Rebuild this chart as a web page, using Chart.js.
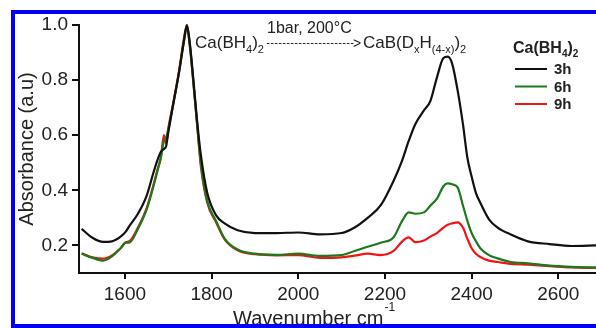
<!DOCTYPE html>
<html>
<head>
<meta charset="utf-8">
<script src="https://cdn.jsdelivr.net/npm/chart.js@4.4.1/dist/chart.umd.min.js"></script>
<style>
  html, body { margin: 0; padding: 0; background: #ffffff; overflow: hidden; }
  #wrap { position: relative; width: 596px; height: 328px; }
  #frame {
    position: absolute; left: 11px; top: 10px; width: 640px; height: 318px;
    border: 4px solid #0000f2; box-sizing: border-box; pointer-events: none;
  }
</style>
</head>
<body>
<div id="wrap">
  <canvas id="IrChart"></canvas>
  <div id="frame"></div>
</div>
<script>
// wavenumber (cm-1) sample points
const wavenumbers = [1500, 1525, 1550, 1570, 1590, 1602, 1610, 1630, 1650, 1665, 1675, 1683, 1690, 1695, 1700, 1710, 1725, 1735, 1743, 1750, 1758, 1766, 1775, 1790, 1810, 1830, 1860, 1900, 1950, 2000, 2050, 2100, 2130, 2160, 2190, 2220, 2240, 2255, 2270, 2290, 2305, 2320, 2335, 2345, 2355, 2368, 2380, 2390, 2400, 2410, 2420, 2440, 2460, 2490, 2530, 2580, 2630, 2690];

// absorbance, Ca(BH4)2 after 3h / 6h / 9h
const abs_3h = [0.26, 0.228, 0.213, 0.215, 0.232, 0.25, 0.27, 0.315, 0.38, 0.46, 0.51, 0.54, 0.55, 0.56, 0.61, 0.70, 0.83, 0.93, 1.0, 0.93, 0.80, 0.66, 0.53, 0.39, 0.31, 0.28, 0.255, 0.245, 0.245, 0.247, 0.24, 0.245, 0.265, 0.30, 0.345, 0.435, 0.51, 0.58, 0.64, 0.69, 0.725, 0.81, 0.88, 0.885, 0.86, 0.76, 0.64, 0.52, 0.45, 0.39, 0.355, 0.295, 0.265, 0.24, 0.215, 0.205, 0.198, 0.2];
const abs_6h = [0.17, 0.155, 0.145, 0.16, 0.19, 0.21, 0.21, 0.26, 0.33, 0.41, 0.47, 0.52, 0.58, 0.59, 0.62, 0.70, 0.83, 0.93, 0.99, 0.92, 0.79, 0.65, 0.50, 0.36, 0.29, 0.225, 0.185, 0.17, 0.166, 0.17, 0.162, 0.165, 0.18, 0.195, 0.21, 0.23, 0.29, 0.32, 0.315, 0.32, 0.345, 0.37, 0.415, 0.425, 0.422, 0.41, 0.345, 0.29, 0.245, 0.215, 0.19, 0.165, 0.153, 0.14, 0.135, 0.127, 0.122, 0.12];
const abs_9h = [0.172, 0.157, 0.152, 0.164, 0.19, 0.212, 0.215, 0.265, 0.335, 0.415, 0.475, 0.52, 0.60, 0.57, 0.625, 0.705, 0.835, 0.94, 1.0, 0.925, 0.79, 0.65, 0.49, 0.355, 0.285, 0.222, 0.182, 0.168, 0.164, 0.165, 0.155, 0.157, 0.163, 0.17, 0.165, 0.18, 0.215, 0.229, 0.212, 0.218, 0.232, 0.245, 0.265, 0.275, 0.28, 0.284, 0.265, 0.225, 0.19, 0.17, 0.158, 0.145, 0.14, 0.133, 0.13, 0.125, 0.12, 0.118];

const series_labels = ['3h', '6h', '9h'];
const x_ticks = [1600, 1800, 2000, 2200, 2400, 2600];
const y_ticks = [0.2, 0.4, 0.6, 0.8, 1.0];

(function () {
  "use strict";

  const font_family = "'Liberation Sans', Arial, Helvetica, sans-serif";
  const text_color  = '#222222';

  // line colours
  const line_black = '#111111';
  const line_green = '#1c7a1c';
  const line_red   = '#f01414';

  Chart.defaults.font.family = font_family;
  Chart.defaults.color = text_color;

  function toPoints(ys) {
    return wavenumbers.map(function (w, i) { return { x: w, y: ys[i] }; });
  }

  // draw a string made of normal / sub / sup pieces, returns end x
  function drawParts(ctx, parts, x, y, size, weight) {
    parts.forEach(function (p) {
      const small = p[1] !== 'n';
      const fs = small ? Math.round(size * 0.65) : size;
      ctx.font = weight + ' ' + fs + 'px ' + font_family;
      let dy = 0;
      if (p[1] === 'sub') dy = size * 0.28;
      if (p[1] === 'sup') dy = -size * 0.42;
      ctx.fillText(p[0], x, y + dy);
      x += ctx.measureText(p[0]).width;
    });
    return x;
  }

  // titles, reaction note and the legend
  const textPlugin = {
    id: 'irTexts',
    afterDraw: function (chart) {
      const ctx = chart.ctx;
      ctx.save();
      ctx.fillStyle = text_color;
      ctx.textAlign = 'left';
      ctx.textBaseline = 'alphabetic';

      // reaction note
      const x_end = drawParts(ctx, [['Ca(BH', 'n'], ['4', 'sub'], [')', 'n'], ['2', 'sub']], 195, 48, 17, 'normal');
      ctx.font = '16px ' + font_family;
      ctx.fillText('1bar, 200°C', 267, 33);
      ctx.strokeStyle = text_color;
      ctx.lineWidth = 1.2;
      ctx.setLineDash([2.5, 1.5]);
      ctx.beginPath();
      ctx.moveTo(x_end + 3, 43.5);
      ctx.lineTo(354, 43.5);
      ctx.stroke();
      ctx.setLineDash([]);
      ctx.font = '14px ' + font_family;
      ctx.fillText('>', 353, 48);
      drawParts(ctx, [['CaB(D', 'n'], ['x', 'sub'], ['H', 'n'], ['(4-x)', 'sub'], [')', 'n'], ['2', 'sub']], 363, 48, 17, 'normal');

      // axis titles
      const x_title_end = drawParts(ctx, [['Wavenumber cm', 'n']], 233, 325, 20, 'normal');
      ctx.font = '12px ' + font_family;
      ctx.fillText('-1', x_title_end + 1, 311);

      ctx.save();
      ctx.translate(27, 149);
      ctx.rotate(-Math.PI / 2);
      ctx.textAlign = 'center';
      ctx.textBaseline = 'middle';
      ctx.font = '20px ' + font_family;
      ctx.fillText('Absorbance (a.u)', 0, 0);
      ctx.restore();

      // legend
      drawParts(ctx, [['Ca(BH', 'n'], ['4', 'sub'], [')', 'n'], ['2', 'sub']], 513, 53, 16, 'bold');
      chart.data.datasets.forEach(function (ds, i) {
        const ly = 69 + i * 17.5;
        ctx.strokeStyle = ds.borderColor;
        ctx.lineWidth = 2;
        ctx.beginPath();
        ctx.moveTo(515, ly);
        ctx.lineTo(547, ly);
        ctx.stroke();
        ctx.font = 'bold 15px ' + font_family;
        ctx.textBaseline = 'middle';
        ctx.fillText(ds.label, 554, ly + 1);
        ctx.textBaseline = 'alphabetic';
      });
      ctx.restore();
    }
  };

  const colors = [line_black, line_green, line_red];
  const data_sets = [abs_3h, abs_6h, abs_9h].map(function (ys, i) {
    return {
      label: series_labels[i],
      data: toPoints(ys),
      borderColor: colors[i],
      borderWidth: 2.2,
      pointRadius: 0,
      cubicInterpolationMode: 'monotone',
      clip: 4
    };
  });

  const ir_chart = document.getElementById('IrChart');
  new Chart(ir_chart.getContext('2d'), {
    type: 'line',
    data: { datasets: data_sets },
    options: {
      responsive: true,
      maintainAspectRatio: false,
      animation: false,
      layout: { padding: { top: 25, left: 0, right: 0, bottom: 0 } },
      scales: {
        x: {
          type: 'linear',
          min: 1494,
          max: 2687,
          afterBuildTicks: function (s) { s.ticks = x_ticks.map(function (v) { return { value: v }; }); },
          afterFit: function (s) { s.height = 55; },
          ticks: {
            font: { size: 19 },
            color: text_color,
            padding: 4,
            maxRotation: 0,
            autoSkip: false,
            callback: function (v) { return String(v); }
          },
          grid: { drawOnChartArea: false, drawTicks: true, tickLength: 6, color: '#111', lineWidth: 2 },
          border: { display: true, color: '#111', width: 2 }
        },
        y: {
          min: 0.1,
          max: 1.0,
          afterBuildTicks: function (s) { s.ticks = y_ticks.map(function (v) { return { value: v }; }); },
          afterFit: function (s) { s.width = 79; },
          ticks: {
            font: { size: 19 },
            color: text_color,
            padding: 4,
            callback: function (v) { return v.toFixed(1); }
          },
          grid: { drawOnChartArea: false, drawTicks: true, tickLength: 7, color: '#111', lineWidth: 2 },
          border: { display: true, color: '#111', width: 2 }
        }
      },
      plugins: {
        legend: { display: false },
        tooltip: { enabled: false }
      }
    },
    plugins: [textPlugin]
  });
})();
</script>
</body>
</html>
